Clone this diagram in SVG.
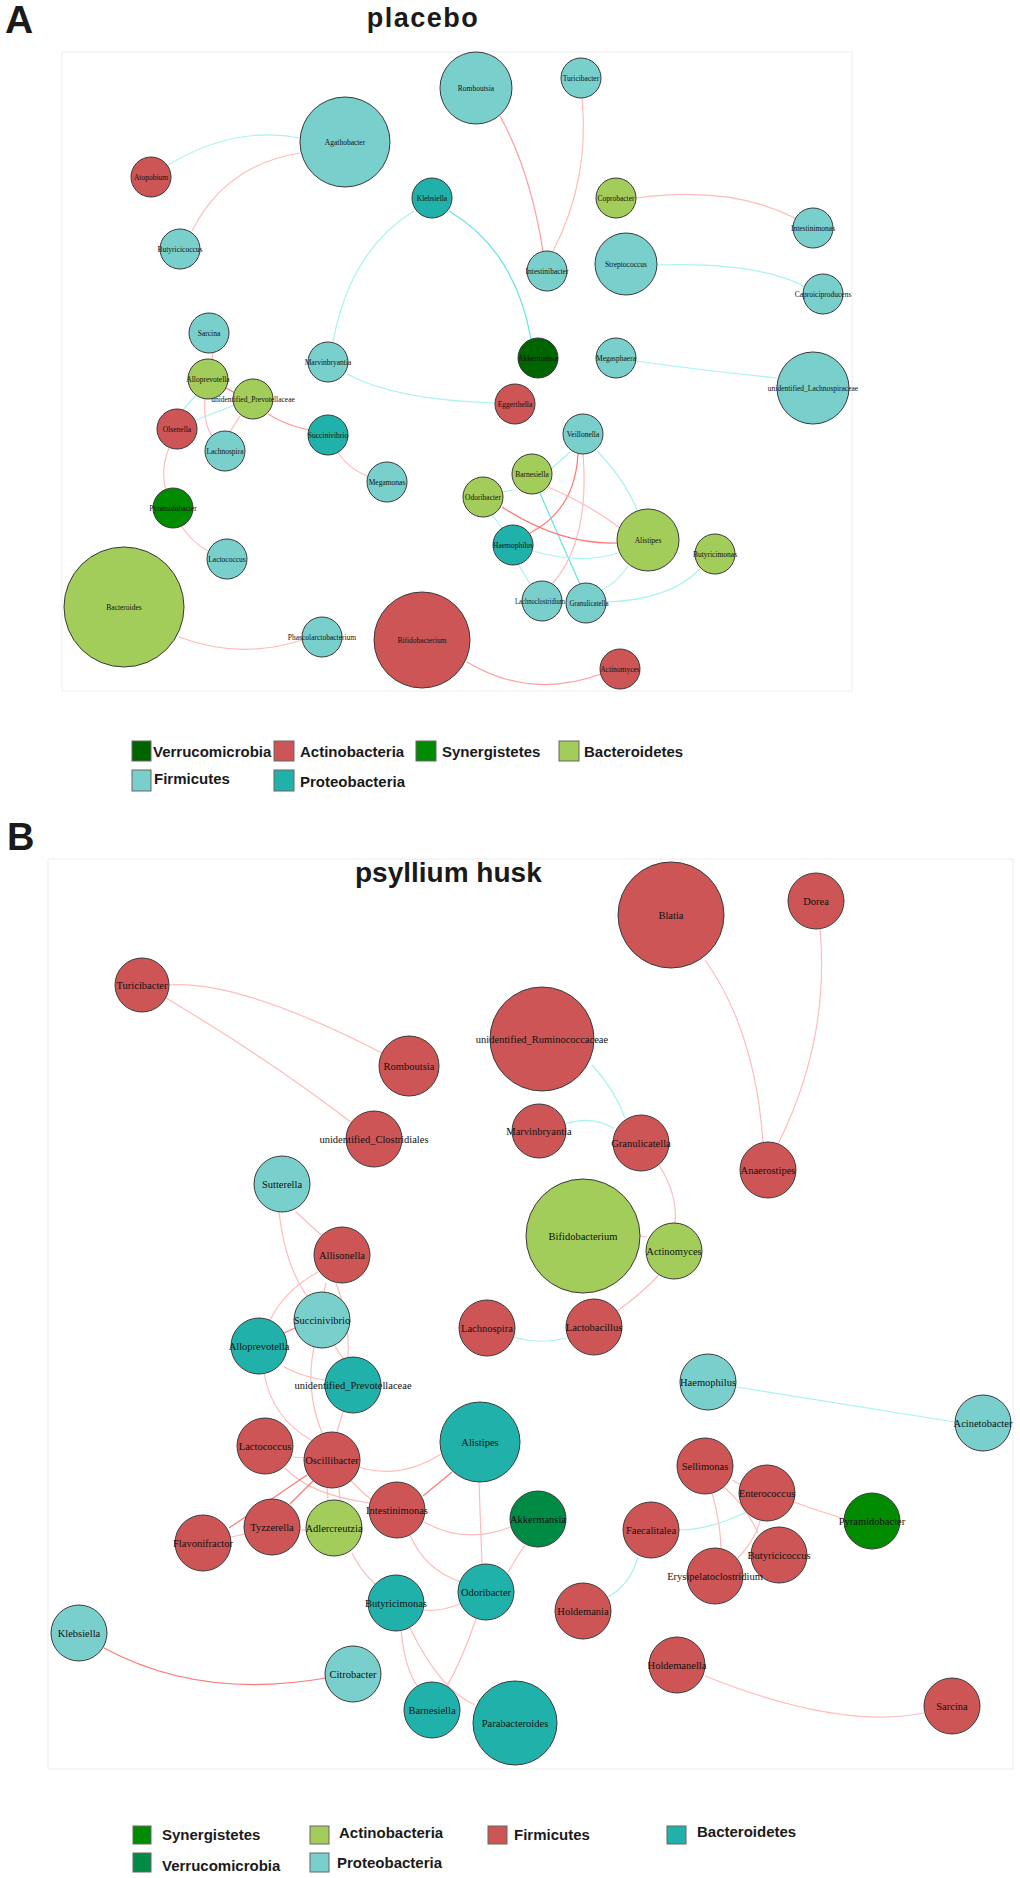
<svg xmlns="http://www.w3.org/2000/svg" width="1020" height="1878" viewBox="0 0 1020 1878">
<style>
.bg{fill:#ffffff}
.box{fill:none;stroke:#eeeeee;stroke-width:1}
.n circle{stroke:#3a3a3a;stroke-width:1}
.la{font-family:"Liberation Serif",serif;font-size:7.5px;fill:#111;text-anchor:middle}
.lb{font-family:"Liberation Serif",serif;font-size:10.5px;fill:#111;text-anchor:middle}
.hd{font-family:"Liberation Sans",Arial,sans-serif;font-weight:bold;fill:#1a1a1a}
.lg{font-family:"Liberation Sans",Arial,sans-serif;font-weight:bold;font-size:15px;fill:#1a1a1a}
.sw{stroke:#666;stroke-width:1}
.e path{fill:none;stroke-width:1.2}
.c1{stroke:#a8f3f0}
.c2{stroke:#62e6e0}
.p1{stroke:#ffbcbc}
.p3{stroke:#ff9d9d}
.p2{stroke:#ff7878}
.firm{fill:#79cfcc}
.prot{fill:#20b2aa}
.act{fill:#cd5555}
.bact{fill:#a2cd5a}
.syn{fill:#008b00}
.verA{fill:#006400}
.verB{fill:#008b45}
</style>
<rect class="bg" x="0" y="0" width="1020" height="1878"/>

<!-- Panel A -->
<text class="hd" x="5" y="33" font-size="39">A</text>
<text class="hd" x="423" y="27" font-size="27" letter-spacing="1.5" text-anchor="middle">placebo</text>
<rect class="box" x="62" y="52" width="790" height="639"/>

<g id="edgesA" class="e">
<path class="c1" d="M168,165 Q235,125 300,138"/>
<path class="p1" d="M192,231 Q225,165 300,153"/>
<path class="c1" d="M414,211 Q350,250 333,342"/>
<path class="c2" d="M449,211 Q515,250 531,339"/>
<path class="p3" d="M500,116 Q530,170 543,251"/>
<path class="p1" d="M582,98 Q590,180 553,251"/>
<path class="p1" d="M636,198 Q730,185 795,218"/>
<path class="c1" d="M657,265 Q760,262 805,287"/>
<path class="c1" d="M636,361 Q700,370 777,378"/>
<path class="c1" d="M347,374 Q395,400 495,403"/>
<path class="p1" d="M213,352 L212,360"/>
<path class="p2" d="M226,388 L235,393"/>
<path class="c1" d="M196,395 L183,410"/>
<path class="c1" d="M196,420 L235,405"/>
<path class="p1" d="M205,398 Q203,425 213,437"/>
<path class="p1" d="M240,416 L230,432"/>
<path class="p3" d="M268,414 Q285,425 309,430"/>
<path class="p1" d="M338,453 Q350,470 368,476"/>
<path class="p1" d="M169,448 Q160,470 166,490"/>
<path class="p1" d="M182,527 Q193,543 208,551"/>
<path class="p1" d="M179,637 Q240,660 302,640"/>
<path class="p3" d="M467,662 Q530,700 601,674"/>
<path class="p2" d="M578,454 Q575,510 530,533"/>
<path class="p1" d="M583,454 Q590,540 553,583"/>
<path class="c1" d="M597,451 Q625,480 637,510"/>
<path class="c1" d="M570,452 L550,470"/>
<path class="p1" d="M548,487 Q590,505 620,528"/>
<path class="c2" d="M540,493 Q560,540 580,584"/>
<path class="p2" d="M502,507 Q560,545 617,543"/>
<path class="c1" d="M502,492 L513,490"/>
<path class="c1" d="M493,516 L502,528"/>
<path class="c1" d="M533,551 Q580,565 618,553"/>
<path class="c1" d="M518,564 L530,584"/>
<path class="c1" d="M628,566 Q615,585 601,590"/>
<path class="c1" d="M700,569 Q670,600 606,602"/>
</g>

<g id="a-Agathobacter" class="n"><circle class="firm" cx="345" cy="142" r="45"/><text class="la" x="345" y="144.5">Agathobacter</text></g>
<g id="a-Atopobium" class="n"><circle class="act" cx="151" cy="177" r="20"/><text class="la" x="151" y="179.5">Atopobium</text></g>
<g id="a-Butyricicoccus" class="n"><circle class="firm" cx="180" cy="249" r="20"/><text class="la" x="180" y="251.5">Butyricicoccus</text></g>
<g id="a-Klebsiella" class="n"><circle class="prot" cx="432" cy="198" r="20"/><text class="la" x="432" y="200.5">Klebsiella</text></g>
<g id="a-Romboutsia" class="n"><circle class="firm" cx="476" cy="88" r="36"/><text class="la" x="476" y="90.5">Romboutsia</text></g>
<g id="a-Turicibacter" class="n"><circle class="firm" cx="581" cy="78" r="20"/><text class="la" x="581" y="80.5">Turicibacter</text></g>
<g id="a-Coprobacter" class="n"><circle class="bact" cx="616" cy="198" r="20"/><text class="la" x="616" y="200.5">Coprobacter</text></g>
<g id="a-Intestinimonas" class="n"><circle class="firm" cx="813" cy="228" r="20"/><text class="la" x="813" y="230.5">Intestinimonas</text></g>
<g id="a-Intestinibacter" class="n"><circle class="firm" cx="547" cy="271" r="20"/><text class="la" x="547" y="273.5">Intestinibacter</text></g>
<g id="a-Streptococcus" class="n"><circle class="firm" cx="626" cy="264" r="31"/><text class="la" x="626" y="266.5">Streptococcus</text></g>
<g id="a-Caproiciproducens" class="n"><circle class="firm" cx="823" cy="294" r="20"/><text class="la" x="823" y="296.5">Caproiciproducens</text></g>
<g id="a-Sarcina" class="n"><circle class="firm" cx="209" cy="333" r="20"/><text class="la" x="209" y="335.5">Sarcina</text></g>
<g id="a-Marvinbryantia" class="n"><circle class="firm" cx="328" cy="362" r="20"/><text class="la" x="328" y="364.5">Marvinbryantia</text></g>
<g id="a-Akkermansia" class="n"><circle class="verA" cx="538" cy="358" r="20"/><text class="la" x="538" y="360.5">Akkermansia</text></g>
<g id="a-Megasphaera" class="n"><circle class="firm" cx="616" cy="358" r="20"/><text class="la" x="616" y="360.5">Megasphaera</text></g>
<g id="a-unidentified_Lachnospiraceae" class="n"><circle class="firm" cx="813" cy="388" r="36"/><text class="la" x="813" y="390.5">unidentified_Lachnospiraceae</text></g>
<g id="a-Alloprevotella" class="n"><circle class="bact" cx="208" cy="379" r="20"/><text class="la" x="208" y="381.5">Alloprevotella</text></g>
<g id="a-Olsenella" class="n"><circle class="act" cx="177" cy="429" r="20"/><text class="la" x="177" y="431.5">Olsenella</text></g>
<g id="a-Lachnospira" class="n"><circle class="firm" cx="225" cy="451" r="20"/><text class="la" x="225" y="453.5">Lachnospira</text></g>
<g id="a-unidentified_Prevotellaceae" class="n"><circle class="bact" cx="253" cy="399" r="20"/><text class="la" x="253" y="401.5">unidentified_Prevotellaceae</text></g>
<g id="a-Succinivibrio" class="n"><circle class="prot" cx="328" cy="435" r="20"/><text class="la" x="328" y="437.5">Succinivibrio</text></g>
<g id="a-Eggerthella" class="n"><circle class="act" cx="515" cy="404" r="20"/><text class="la" x="515" y="406.5">Eggerthella</text></g>
<g id="a-Megamonas" class="n"><circle class="firm" cx="387" cy="482" r="20"/><text class="la" x="387" y="484.5">Megamonas</text></g>
<g id="a-Veillonella" class="n"><circle class="firm" cx="583" cy="434" r="20"/><text class="la" x="583" y="436.5">Veillonella</text></g>
<g id="a-Barnesiella" class="n"><circle class="bact" cx="532" cy="474" r="20"/><text class="la" x="532" y="476.5">Barnesiella</text></g>
<g id="a-Odoribacter" class="n"><circle class="bact" cx="483" cy="497" r="20"/><text class="la" x="483" y="499.5">Odoribacter</text></g>
<g id="a-Pyramidobacter" class="n"><circle class="syn" cx="173" cy="508" r="20"/><text class="la" x="173" y="510.5">Pyramidobacter</text></g>
<g id="a-Haemophilus" class="n"><circle class="prot" cx="513" cy="545" r="20"/><text class="la" x="513" y="547.5">Haemophilus</text></g>
<g id="a-Alistipes" class="n"><circle class="bact" cx="648" cy="540" r="31"/><text class="la" x="648" y="542.5">Alistipes</text></g>
<g id="a-Butyricimonas" class="n"><circle class="bact" cx="715" cy="554" r="20"/><text class="la" x="715" y="556.5">Butyricimonas</text></g>
<g id="a-Lactococcus" class="n"><circle class="firm" cx="227" cy="559" r="20"/><text class="la" x="227" y="561.5">Lactococcus</text></g>
<g id="a-Lachnoclostridium" class="n"><circle class="firm" cx="542" cy="601" r="20"/><text class="la" x="540" y="603.5" textLength="50" lengthAdjust="spacingAndGlyphs">Lachnoclostridium</text></g>
<g id="a-Granulicatella" class="n"><circle class="firm" cx="586" cy="603" r="20"/><text class="la" x="589" y="605.5" textLength="39" lengthAdjust="spacingAndGlyphs">Granulicatella</text></g>
<g id="a-Bacteroides" class="n"><circle class="bact" cx="124" cy="607" r="60"/><text class="la" x="124" y="609.5">Bacteroides</text></g>
<g id="a-Phascolarctobacterium" class="n"><circle class="firm" cx="322" cy="637" r="20"/><text class="la" x="322" y="639.5">Phascolarctobacterium</text></g>
<g id="a-Bifidobacterium" class="n"><circle class="act" cx="422" cy="640" r="48"/><text class="la" x="422" y="642.5">Bifidobacterium</text></g>
<g id="a-Actinomyces" class="n"><circle class="act" cx="620" cy="669" r="20"/><text class="la" x="620" y="671.5">Actinomyces</text></g>

<g id="legendA">
<rect class="sw verA" x="132" y="741" width="19" height="20"/><text class="lg" x="153" y="757">Verrucomicrobia</text>
<rect class="sw act" x="274" y="741" width="20" height="20"/><text class="lg" x="300" y="757">Actinobacteria</text>
<rect class="sw syn" x="416" y="741" width="20" height="20"/><text class="lg" x="442" y="757">Synergistetes</text>
<rect class="sw bact" x="559" y="741" width="20" height="20"/><text class="lg" x="584" y="757">Bacteroidetes</text>
<rect class="sw firm" x="132" y="770" width="19" height="21"/><text class="lg" x="154" y="784">Firmicutes</text>
<rect class="sw prot" x="274" y="770" width="20" height="21"/><text class="lg" x="300" y="787">Proteobacteria</text>
</g>

<!-- Panel B -->
<text class="hd" x="7" y="850" font-size="38">B</text>
<text class="hd" x="355" y="882" font-size="28">psyllium husk</text>
<rect class="box" x="48" y="859" width="965" height="910"/>

<g id="edgesB" class="e">
<path class="p1" d="M169,985 Q240,980 382,1053"/>
<path class="p1" d="M166,998 Q270,1060 352,1123"/>
<path class="p1" d="M705,960 Q755,1030 763,1142"/>
<path class="p1" d="M820,929 Q830,1040 778,1144"/>
<path class="c1" d="M592,1065 Q615,1090 625,1118"/>
<path class="c1" d="M565,1124 Q590,1115 614,1128"/>
<path class="p1" d="M659,1165 Q678,1195 675,1223"/>
<path class="p1" d="M640,1236 L647,1237"/>
<path class="p1" d="M659,1275 Q640,1295 617,1311"/>
<path class="c1" d="M514,1337 Q540,1345 566,1338"/>
<path class="c1" d="M736,1387 L955,1422"/>
<path class="p1" d="M296,1212 L321,1235"/>
<path class="p1" d="M279,1212 Q285,1265 307,1296"/>
<path class="p1" d="M318,1272 Q285,1290 270,1320"/>
<path class="p1" d="M326,1283 L324,1292"/>
<path class="p1" d="M336,1283 Q350,1320 348,1358"/>
<path class="p2" d="M295,1328 L284,1333"/>
<path class="p1" d="M284,1367 Q305,1378 326,1380"/>
<path class="p1" d="M264,1373 Q272,1418 311,1440"/>
<path class="p1" d="M314,1347 Q305,1390 322,1433"/>
<path class="p1" d="M335,1346 L343,1359"/>
<path class="p1" d="M343,1412 L337,1432"/>
<path class="p1" d="M293,1457 L304,1458"/>
<path class="p1" d="M359,1467 Q400,1480 441,1454"/>
<path class="p1" d="M285,1468 Q310,1495 370,1503"/>
<path class="p2" d="M313,1481 L290,1504"/>
<path class="p2" d="M307,1475 Q270,1500 229,1528"/>
<path class="p1" d="M231,1537 L245,1534"/>
<path class="p1" d="M300,1530 L306,1530"/>
<path class="p1" d="M327,1488 L328,1500"/>
<path class="p1" d="M339,1488 L340,1500"/>
<path class="p1" d="M350,1480 Q365,1495 372,1500"/>
<path class="p2" d="M423,1496 L452,1472"/>
<path class="p1" d="M424,1522 Q465,1545 511,1527"/>
<path class="p1" d="M410,1535 Q425,1570 461,1582"/>
<path class="p1" d="M479,1482 L482,1564"/>
<path class="p1" d="M525,1545 Q515,1560 508,1572"/>
<path class="p1" d="M352,1553 Q360,1570 375,1584"/>
<path class="p1" d="M424,1610 Q440,1612 460,1604"/>
<path class="p1" d="M401,1630 Q405,1670 418,1687"/>
<path class="p1" d="M410,1628 Q440,1690 475,1705"/>
<path class="p1" d="M476,1619 Q462,1660 447,1686"/>
<path class="p2" d="M104,1648 Q200,1700 326,1678"/>
<path class="p1" d="M732,1480 L741,1485"/>
<path class="p1" d="M712,1493 Q720,1520 721,1548"/>
<path class="p1" d="M724,1487 Q745,1505 758,1533"/>
<path class="p1" d="M760,1521 Q755,1540 738,1558"/>
<path class="c1" d="M746,1512 Q710,1530 679,1530"/>
<path class="p1" d="M794,1502 Q815,1510 845,1519"/>
<path class="c1" d="M638,1557 Q630,1585 608,1597"/>
<path class="p1" d="M705,1676 Q840,1730 924,1713"/>
</g>

<g id="b-Blatia" class="n"><circle class="act" cx="671" cy="915" r="53"/><text class="lb" x="671" y="918.5">Blatia</text></g>
<g id="b-Dorea" class="n"><circle class="act" cx="816" cy="901" r="28"/><text class="lb" x="816" y="904.5">Dorea</text></g>
<g id="b-Turicibacter" class="n"><circle class="act" cx="142" cy="985" r="27"/><text class="lb" x="142" y="988.5">Turicibacter</text></g>
<g id="b-Romboutsia" class="n"><circle class="act" cx="409" cy="1066" r="30"/><text class="lb" x="409" y="1069.5">Romboutsia</text></g>
<g id="b-unidentified_Ruminococcaceae" class="n"><circle class="act" cx="542" cy="1039" r="52"/><text class="lb" x="542" y="1042.5">unidentified_Ruminococcaceae</text></g>
<g id="b-unidentified_Clostridiales" class="n"><circle class="act" cx="374" cy="1139" r="28"/><text class="lb" x="374" y="1142.5">unidentified_Clostridiales</text></g>
<g id="b-Marvinbryantia" class="n"><circle class="act" cx="539" cy="1131" r="27"/><text class="lb" x="539" y="1134.5">Marvinbryantia</text></g>
<g id="b-Granulicatella" class="n"><circle class="act" cx="641" cy="1143" r="28"/><text class="lb" x="641" y="1146.5">Granulicatella</text></g>
<g id="b-Anaerostipes" class="n"><circle class="act" cx="768" cy="1170" r="28"/><text class="lb" x="768" y="1173.5">Anaerostipes</text></g>
<g id="b-Sutterella" class="n"><circle class="firm" cx="282" cy="1184" r="28"/><text class="lb" x="282" y="1187.5">Sutterella</text></g>
<g id="b-Bifidobacterium" class="n"><circle class="bact" cx="583" cy="1236" r="57"/><text class="lb" x="583" y="1239.5">Bifidobacterium</text></g>
<g id="b-Actinomyces" class="n"><circle class="bact" cx="674" cy="1251" r="28"/><text class="lb" x="674" y="1254.5">Actinomyces</text></g>
<g id="b-Allisonella" class="n"><circle class="act" cx="342" cy="1255" r="28"/><text class="lb" x="342" y="1258.5">Allisonella</text></g>
<g id="b-Succinivibrio" class="n"><circle class="firm" cx="322" cy="1320" r="28"/><text class="lb" x="322" y="1323.5">Succinivibrio</text></g>
<g id="b-Alloprevotella" class="n"><circle class="prot" cx="259" cy="1346" r="28"/><text class="lb" x="259" y="1349.5">Alloprevotella</text></g>
<g id="b-Lachnospira" class="n"><circle class="act" cx="487" cy="1328" r="28"/><text class="lb" x="487" y="1331.5">Lachnospira</text></g>
<g id="b-Lactobacillus" class="n"><circle class="act" cx="594" cy="1327" r="28"/><text class="lb" x="594" y="1330.5">Lactobacillus</text></g>
<g id="b-unidentified_Prevotellaceae" class="n"><circle class="prot" cx="353" cy="1385" r="28"/><text class="lb" x="353" y="1388.5">unidentified_Prevotellaceae</text></g>
<g id="b-Haemophilus" class="n"><circle class="firm" cx="708" cy="1382" r="28"/><text class="lb" x="708" y="1385.5">Haemophilus</text></g>
<g id="b-Acinetobacter" class="n"><circle class="firm" cx="983" cy="1423" r="28"/><text class="lb" x="983" y="1426.5">Acinetobacter</text></g>
<g id="b-Lactococcus" class="n"><circle class="act" cx="265" cy="1446" r="28"/><text class="lb" x="265" y="1449.5">Lactococcus</text></g>
<g id="b-Alistipes" class="n"><circle class="prot" cx="480" cy="1442" r="40"/><text class="lb" x="480" y="1445.5">Alistipes</text></g>
<g id="b-Oscillibacter" class="n"><circle class="act" cx="332" cy="1460" r="28"/><text class="lb" x="332" y="1463.5">Oscillibacter</text></g>
<g id="b-Sellimonas" class="n"><circle class="act" cx="705" cy="1466" r="28"/><text class="lb" x="705" y="1469.5">Sellimonas</text></g>
<g id="b-Enterococcus" class="n"><circle class="act" cx="767" cy="1493" r="28"/><text class="lb" x="767" y="1496.5">Enterococcus</text></g>
<g id="b-Pyramidobacter" class="n"><circle class="syn" cx="872" cy="1521" r="28"/><text class="lb" x="872" y="1524.5">Pyramidobacter</text></g>
<g id="b-Intestinimonas" class="n"><circle class="act" cx="397" cy="1510" r="28"/><text class="lb" x="397" y="1513.5">Intestinimonas</text></g>
<g id="b-Akkermansia" class="n"><circle class="verB" cx="538" cy="1519" r="28"/><text class="lb" x="538" y="1522.5">Akkermansia</text></g>
<g id="b-Tyzzerella" class="n"><circle class="act" cx="272" cy="1527" r="28"/><text class="lb" x="272" y="1530.5">Tyzzerella</text></g>
<g id="b-Adlercreutzia" class="n"><circle class="bact" cx="334" cy="1528" r="28"/><text class="lb" x="334" y="1531.5">Adlercreutzia</text></g>
<g id="b-Flavonifractor" class="n"><circle class="act" cx="203" cy="1543" r="28"/><text class="lb" x="203" y="1546.5">Flavonifractor</text></g>
<g id="b-Faecalitalea" class="n"><circle class="act" cx="651" cy="1530" r="28"/><text class="lb" x="651" y="1533.5">Faecalitalea</text></g>
<g id="b-Butyricicoccus" class="n"><circle class="act" cx="779" cy="1555" r="28"/><text class="lb" x="779" y="1558.5">Butyricicoccus</text></g>
<g id="b-Erysipelatoclostridium" class="n"><circle class="act" cx="715" cy="1576" r="28"/><text class="lb" x="715" y="1579.5">Erysipelatoclostridium</text></g>
<g id="b-Butyricimonas" class="n"><circle class="prot" cx="396" cy="1603" r="28"/><text class="lb" x="396" y="1606.5">Butyricimonas</text></g>
<g id="b-Odoribacter" class="n"><circle class="prot" cx="486" cy="1592" r="28"/><text class="lb" x="486" y="1595.5">Odoribacter</text></g>
<g id="b-Holdemania" class="n"><circle class="act" cx="583" cy="1611" r="28"/><text class="lb" x="583" y="1614.5">Holdemania</text></g>
<g id="b-Klebsiella" class="n"><circle class="firm" cx="79" cy="1633" r="28"/><text class="lb" x="79" y="1636.5">Klebsiella</text></g>
<g id="b-Citrobacter" class="n"><circle class="firm" cx="353" cy="1674" r="28"/><text class="lb" x="353" y="1677.5">Citrobacter</text></g>
<g id="b-Holdemanella" class="n"><circle class="act" cx="677" cy="1665" r="28"/><text class="lb" x="677" y="1668.5">Holdemanella</text></g>
<g id="b-Barnesiella" class="n"><circle class="prot" cx="432" cy="1710" r="28"/><text class="lb" x="432" y="1713.5">Barnesiella</text></g>
<g id="b-Parabacteroides" class="n"><circle class="prot" cx="515" cy="1723" r="42"/><text class="lb" x="515" y="1726.5">Parabacteroides</text></g>
<g id="b-Sarcina" class="n"><circle class="act" cx="952" cy="1706" r="28"/><text class="lb" x="952" y="1709.5">Sarcina</text></g>

<g id="legendB">
<rect class="sw syn" x="133" y="1826" width="18" height="18"/><text class="lg" x="162" y="1840">Synergistetes</text>
<rect class="sw bact" x="310" y="1826" width="19" height="18"/><text class="lg" x="339" y="1838">Actinobacteria</text>
<rect class="sw act" x="488" y="1826" width="19" height="18"/><text class="lg" x="514" y="1840">Firmicutes</text>
<rect class="sw prot" x="667" y="1826" width="19" height="18"/><text class="lg" x="697" y="1837">Bacteroidetes</text>
<rect class="sw verB" x="133" y="1853" width="18" height="19"/><text class="lg" x="162" y="1871">Verrucomicrobia</text>
<rect class="sw firm" x="310" y="1853" width="19" height="19"/><text class="lg" x="337" y="1868">Proteobacteria</text>
</g>
</svg>
